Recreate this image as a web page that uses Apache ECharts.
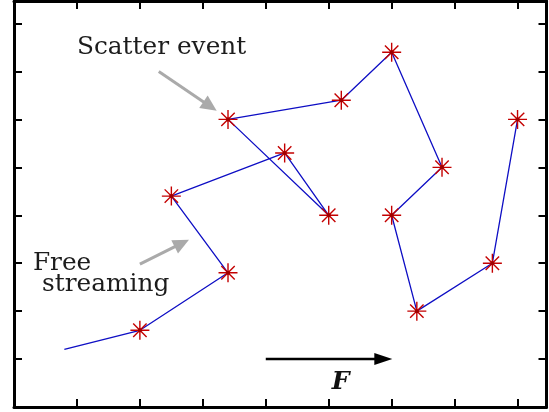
<!DOCTYPE html>
<html>
<head>
<meta charset="utf-8">
<script src="https://cdn.jsdelivr.net/npm/echarts@6/dist/echarts.min.js"></script>
<style>html,body{margin:0;padding:0;background:#fff;}#c{width:549px;height:412px;}</style>
</head>
<body>
<div id="c"></div>
<script>
// Path of the particle (first point is the start, no scatter marker)
const pathX = [0.8, 2.0, 3.4, 2.5, 4.3, 5.0, 3.4, 5.2, 6.0, 6.8, 6.0, 6.4, 7.6, 8.0];
const pathY = [1.2, 1.6, 2.8, 4.4, 5.3, 4.0, 6.0, 6.4, 7.4, 5.0, 4.0, 2.0, 3.0, 6.0];

// Annotations (data coordinates)
const labelTexts = ['Scatter event', 'Free', 'streaming', 'F'];
const labelPos = [[1.0, 7.5], [0.30, 3.0], [0.445, 2.55], [5.19, 0.52]];
const arrowTail = [[2.3, 7.0], [2.0, 2.98], [4.0, 1.0]];
const arrowTip  = [[3.22, 6.18], [2.78, 3.49], [6.01, 1.0]];

const linePts = pathX.map((x, i) => [x, pathY[i]]);
const scatterPts = linePts.slice(1);

const chart = echarts.init(document.getElementById('c'), null, {renderer: 'canvas'});

function axis(pos) {
  return {
    type: 'value', position: pos, min: 0,
    max: (pos === 'bottom' || pos === 'top') ? 8.46 : 8.47,
    interval: 1,
    axisLine: {show: true, onZero: false, lineStyle: {color: '#000', width: 3}},
    axisTick: {show: true, inside: true, length: 8, lineStyle: {color: '#000', width: 2}},
    axisLabel: {show: false},
    splitLine: {show: false}
  };
}

const star = 'path://M10,0L10,20M0,10L20,10M2.93,2.93L17.07,17.07M2.93,17.07L17.07,2.93';

chart.setOption({
  animation: false,
  grid: {left: 14, right: 2.5, top: 1, bottom: 5, containLabel: false},
  xAxis: [axis('bottom'), axis('top')],
  yAxis: [axis('left'), axis('right')],
  series: [
    {
      type: 'line', data: linePts, showSymbol: false, symbol: 'none',
      lineStyle: {color: '#0e0ec4', width: 1.3}, z: 2
    },
    {
      type: 'scatter', data: scatterPts, symbol: star, symbolSize: 19,
      itemStyle: {color: 'rgba(0,0,0,0)', borderColor: '#c40000', borderWidth: 1.4, opacity: 1},
      z: 3
    },
    {
      type: 'scatter', data: scatterPts, symbol: 'circle', symbolSize: 4,
      itemStyle: {color: '#a00000', opacity: 1}, z: 4, silent: true
    }
  ]
});

function px(p) { return chart.convertToPixel({gridIndex: 0}, p); }

const graphics = [];
const arrowStyles = [
  {color: '#aaaaaa', width: 3, headLen: 16, headHalf: 7.5},
  {color: '#aaaaaa', width: 3, headLen: 16, headHalf: 7.5},
  {color: '#000000', width: 2.5, headLen: 18, headHalf: 6}
];
arrowTail.forEach((t, i) => {
  const a = px(t), b = px(arrowTip[i]);
  const s = arrowStyles[i];
  const dx = b[0] - a[0], dy = b[1] - a[1];
  const L = Math.sqrt(dx * dx + dy * dy);
  const ux = dx / L, uy = dy / L;
  const bx = b[0] - ux * s.headLen, by = b[1] - uy * s.headLen;
  graphics.push({
    type: 'line', z: 10,
    shape: {x1: a[0], y1: a[1], x2: bx + ux * 2, y2: by + uy * 2},
    style: {stroke: s.color, lineWidth: s.width}
  });
  graphics.push({
    type: 'polygon', z: 10,
    shape: {points: [[b[0], b[1]], [bx - uy * s.headHalf, by + ux * s.headHalf], [bx + uy * s.headHalf, by - ux * s.headHalf]]},
    style: {fill: s.color}
  });
});

const textFonts = [
  {size: 24.8, weight: 'normal', style: 'normal', align: 'left'},
  {size: 24.8, weight: 'normal', style: 'normal', align: 'left'},
  {size: 24.8, weight: 'normal', style: 'normal', align: 'left'},
  {size: 25, weight: 'bold', style: 'italic', align: 'center'}
];
labelTexts.forEach((t, i) => {
  const p = px(labelPos[i]);
  const f = textFonts[i];
  graphics.push({
    type: 'text', z: 11, x: p[0], y: p[1],
    style: {
      text: t, fill: i === 3 ? '#111' : '#1c1c1c',
      font: f.style + ' ' + f.weight + ' ' + f.size + 'px "DejaVu Serif"',
      align: f.align, verticalAlign: 'middle'
    }
  });
});

chart.setOption({graphic: graphics});
</script>
</body>
</html>
